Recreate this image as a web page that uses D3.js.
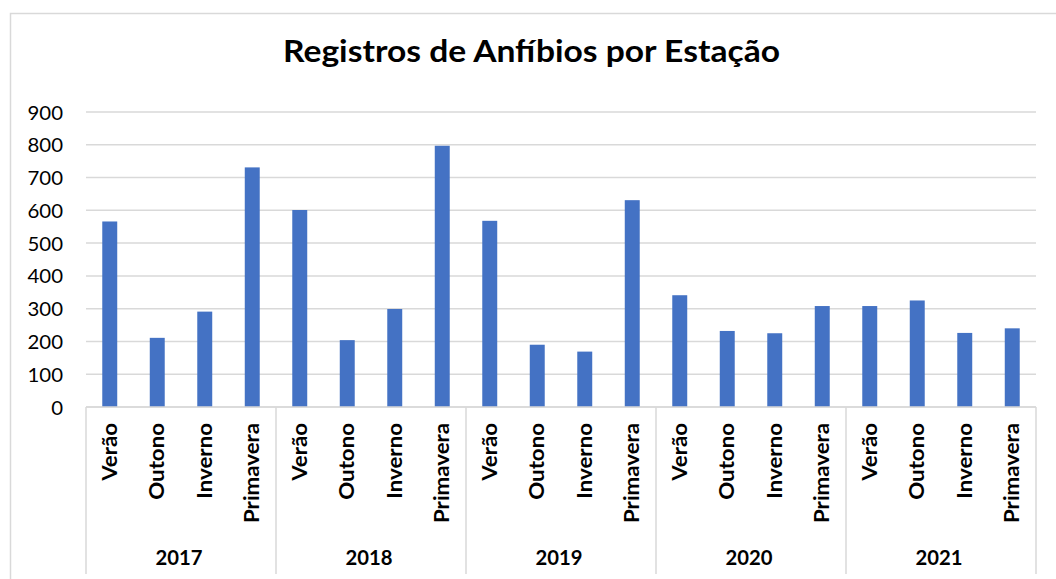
<!DOCTYPE html>
<html>
<head>
<meta charset="utf-8">
<script src="https://cdn.jsdelivr.net/npm/d3@7"></script>
<style>
  html, body { margin: 0; padding: 0; background: #fff; }
  svg { display: block; }
  text { font-family: Lato, "Open Sans", sans-serif; fill: #000; }
</style>
</head>
<body>
<script>
const years = ["2017", "2018", "2019", "2020", "2021"];
const seasons = ["Verão", "Outono", "Inverno", "Primavera"];
const values2017 = [566, 211, 291, 731];
const values2018 = [601, 204, 299, 797];
const values2019 = [568, 190, 169, 631];
const values2020 = [341, 232, 225, 308];
const values2021 = [308, 325, 226, 240];
const yTicks = [0, 100, 200, 300, 400, 500, 600, 700, 800, 900];
const title = "Registros de Anfíbios por Estação";

const seriesByYear = [values2017, values2018, values2019, values2020, values2021];
const data = [];
years.forEach((y, i) => seasons.forEach((s, j) => data.push({ key: y + "|" + s, year: y, season: s, value: seriesByYear[i][j] })));

const W = 1056, H = 579;
const plot = { left: 86, right: 1036, top: 112, bottom: 407 };

const svg = d3.select("body").append("svg").attr("width", W).attr("height", H);

function measure(text, weight, size) {
  const t = svg.append("text").attr("font-weight", weight).attr("font-size", size).text(text);
  const w = t.node().getComputedTextLength();
  t.remove();
  return w;
}
// squeeze a Lato string to Calibri-like proportions
function squeezeRatio(sample, weight, size, target) {
  return target / measure(sample, weight, size);
}

// chart border
svg.append("rect").attr("x", 10.5).attr("y", 13.5).attr("width", 1100).attr("height", 700)
  .attr("fill", "#fff").attr("stroke", "#d9d9d9").attr("stroke-width", 1.5);

const x = d3.scaleBand().domain(data.map(d => d.key)).range([plot.left, plot.right]).paddingInner(0.685).paddingOuter(0.3425);
const y = d3.scaleLinear().domain([0, 900]).range([plot.bottom, plot.top]);

// gridlines
svg.append("g").selectAll("line").data(yTicks).join("line")
  .attr("x1", plot.left).attr("x2", plot.right)
  .attr("y1", d => y(d)).attr("y2", d => y(d))
  .attr("stroke", "#d9d9d9").attr("stroke-width", 1.5);

// y axis labels
const yFs = 19.5;
const yRatio = squeezeRatio("900", 400, yFs, 35.5);
const yAxis = d3.axisLeft(y).tickValues(yTicks).tickSize(0).tickPadding(0).tickFormat(d3.format("d"));
const yg = svg.append("g").attr("transform", `translate(${plot.left - 23},0)`).call(yAxis);
yg.select(".domain").remove();
yg.selectAll("text").attr("font-size", yFs).attr("font-family", "Lato, sans-serif").attr("fill", "#000").attr("dy", "0.36em")
  .each(function () {
    const t = d3.select(this);
    t.attr("textLength", this.getComputedTextLength() * yRatio).attr("lengthAdjust", "spacingAndGlyphs");
  });

// bars
svg.append("g").selectAll("rect").data(data).join("rect")
  .attr("x", d => x(d.key)).attr("width", x.bandwidth())
  .attr("y", d => y(d.value)).attr("height", d => y(0) - y(d.value))
  .attr("fill", "#4472c4");

// category axis line
svg.append("line").attr("x1", plot.left).attr("x2", plot.right).attr("y1", y(0)).attr("y2", y(0))
  .attr("stroke", "#d9d9d9").attr("stroke-width", 1.5);

// group separators
const step = x.step();
const groupW = step * seasons.length;
const sepX = d3.range(years.length + 1).map(i => plot.left + i * groupW);
svg.append("g").selectAll("line").data(sepX).join("line")
  .attr("x1", d => d).attr("x2", d => d).attr("y1", y(0)).attr("y2", 574)
  .attr("stroke", "#d9d9d9").attr("stroke-width", 1.5);

// category labels
const catFs = 21;
const catRatio = squeezeRatio("Primavera", 700, catFs, 100);
svg.append("g").selectAll("text").data(data).join("text")
  .attr("transform", d => `translate(${x(d.key) + x.bandwidth() / 2 + catFs * 0.33},423) rotate(-90)`)
  .attr("text-anchor", "end").attr("font-weight", 700).attr("font-size", catFs)
  .text(d => d.season)
  .each(function () {
    d3.select(this).attr("textLength", this.getComputedTextLength() * catRatio).attr("lengthAdjust", "spacingAndGlyphs");
  });

// year labels
const yearFs = 20.5;
const yearRatio = squeezeRatio("2017", 700, yearFs, 47);
svg.append("g").selectAll("text").data(years).join("text")
  .attr("x", (d, i) => plot.left + i * groupW + groupW / 2 - 2)
  .attr("y", 565)
  .attr("text-anchor", "middle").attr("font-weight", 700).attr("font-size", yearFs)
  .text(d => d)
  .each(function () {
    d3.select(this).attr("textLength", this.getComputedTextLength() * yearRatio).attr("lengthAdjust", "spacingAndGlyphs");
  });

// title
const titleFs = 30.5;
const titleLen = 497;
svg.append("text").attr("x", 531.5).attr("y", 62).attr("text-anchor", "middle")
  .attr("font-weight", 700).attr("font-size", titleFs)
  .attr("textLength", titleLen).attr("lengthAdjust", "spacingAndGlyphs")
  .text(title);
</script>
</body>
</html>
